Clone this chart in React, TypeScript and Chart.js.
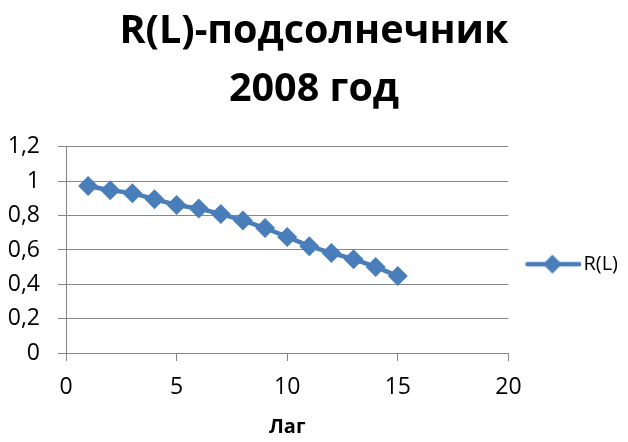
import React, { useEffect, useRef } from "react";
import { Chart, registerables } from "chart.js";

Chart.register(...registerables);

const titleLines = ["R(L)-подсолнечник", "2008 год"];
const seriesName = "R(L)";
const xAxisTitle = "Лаг";
const lags = [1, 2, 3, 4, 5, 6, 7, 8, 9, 10, 11, 12, 13, 14, 15];
const rValues = [0.973, 0.948, 0.931, 0.896, 0.862, 0.841, 0.81, 0.771, 0.728, 0.676, 0.622, 0.583, 0.546, 0.501, 0.448];

const BLUE = "#4A7EBB";
const GRID = "#878787";
const FONT = "'Open Sans', 'Noto Sans', sans-serif";

function makeLegendIcon(): HTMLCanvasElement {
  const c = document.createElement("canvas");
  c.width = 64;
  c.height = 22;
  const g = c.getContext("2d")!;
  g.strokeStyle = BLUE;
  g.lineWidth = 4.5;
  g.lineCap = "round";
  g.beginPath();
  g.moveTo(10, 11);
  g.lineTo(62, 11);
  g.stroke();
  g.fillStyle = BLUE;
  g.beginPath();
  g.moveTo(35 - 9.5, 11);
  g.lineTo(35, 1.5);
  g.lineTo(35 + 9.5, 11);
  g.lineTo(35, 20.5);
  g.closePath();
  g.fill();
  return c;
}

const fmt = (v: number | string) => {
  const n = Number(v);
  return (Math.round(n * 10) / 10).toString().replace(".", ",");
};

export default function App() {
  const ref = useRef<HTMLCanvasElement | null>(null);
  useEffect(() => {
    document.body.style.margin = "0";
    const canvas = ref.current!;
    const chart = new Chart(canvas, {
      type: "scatter",
      data: {
        datasets: [
          {
            label: seriesName,
            data: lags.map((x, i) => ({ x, y: rValues[i] })),
            showLine: true,
            borderColor: BLUE,
            backgroundColor: BLUE,
            borderWidth: 4.5,
            pointStyle: "rectRot",
            pointRadius: 10,
            pointBorderWidth: 0,
            pointBackgroundColor: BLUE,
            tension: 0,
          },
        ],
      },
      options: {
        animation: false,
        responsive: false,
        devicePixelRatio: 1,
        layout: { padding: { left: 0, right: 0, top: 0, bottom: 0 } },
        plugins: {
          tooltip: { enabled: false },
          title: {
            display: true,
            text: titleLines,
            color: "#000",
            font: { family: FONT, size: 39.5, weight: "bold", lineHeight: 1.46 },
            padding: { top: 3, bottom: 28.6 },
          },
          legend: {
            display: true,
            position: "right",
            align: "center",
            fullSize: false,
            title: { display: true, text: "", padding: 7, font: { size: 12 } },
            labels: {
              usePointStyle: true,
              pointStyle: makeLegendIcon(),
              pointStyleWidth: 48,
              padding: 17,
              color: "#000",
              font: { family: FONT, size: 20 },
            },
          },
        },
        scales: {
          x: {
            type: "linear",
            min: 0,
            max: 20,
            afterFit: (s: any) => {
              s.height = 89;
            },
            ticks: {
              stepSize: 5,
              color: "#000",
              font: { family: FONT, size: 23 },
              padding: 13,
              maxRotation: 0,
              callback: (v) => fmt(v),
            },
            grid: {
              display: true,
              drawOnChartArea: false,
              drawTicks: true,
              tickLength: 8,
              color: GRID,
            },
            border: { display: true, color: GRID, width: 1 },
            title: {
              display: true,
              text: xAxisTitle,
              color: "#000",
              font: { family: FONT, size: 20, weight: "bold", lineHeight: 1.2 },
              padding: { top: 10, bottom: 3 },
            },
          },
          y: {
            type: "linear",
            min: 0,
            max: 1.2,
            afterFit: (s: any) => {
              s.width = 66;
            },
            ticks: {
              stepSize: 0.2,
              color: "#000",
              font: { family: FONT, size: 23 },
              padding: 18,
              callback: (v) => fmt(v),
            },
            grid: {
              display: true,
              drawOnChartArea: true,
              drawTicks: true,
              tickLength: 8,
              color: GRID,
              lineWidth: 1,
            },
            border: { display: true, color: GRID, width: 1 },
          },
        },
      },
    });
    return () => chart.destroy();
  }, []);
  return (
    <div style={{ width: 628, height: 442, background: "#fff" }}>
      <canvas ref={ref} width={628} height={442} />
    </div>
  );
}
